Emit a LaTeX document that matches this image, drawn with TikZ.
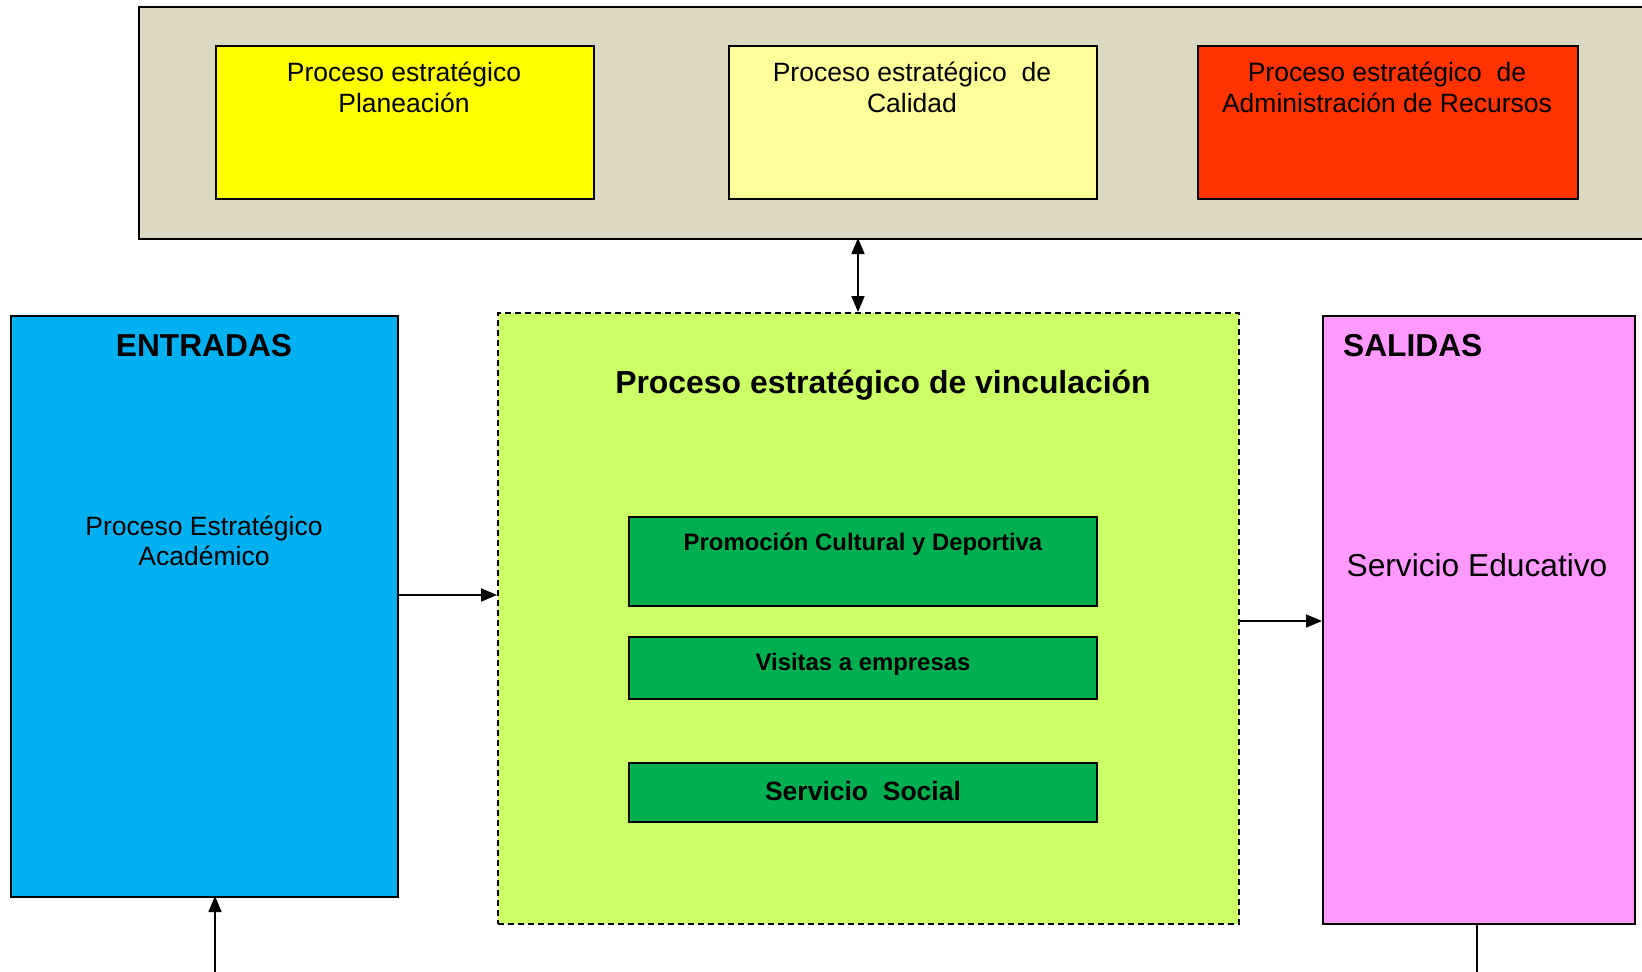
\documentclass[tikz,border=0pt]{standalone}
\usepackage{fontspec}
\setmainfont{Liberation Sans}
\usetikzlibrary{arrows.meta}
\definecolor{cGray}{HTML}{DDD8C2}
\definecolor{cYel}{HTML}{FFFF00}
\definecolor{cLYel}{HTML}{FFFF99}
\definecolor{cRed}{HTML}{FF3300}
\definecolor{cBlue}{HTML}{00B0F0}
\definecolor{cLGreen}{HTML}{CCFF66}
\definecolor{cDGreen}{HTML}{00B050}
\definecolor{cPink}{HTML}{FF99FF}
\tikzset{
  boxnode/.style={draw=black, line width=2pt, inner sep=0pt, anchor=north west},
  dashbox/.style={draw=black, line width=1.6pt, dash pattern=on 6pt off 4pt, inner sep=0pt, anchor=north west},
  toptxt/.style={align=center, inner sep=0pt, anchor=base, font=\fontsize{26.5}{30.5}\selectfont},
  bigbold/.style={inner sep=0pt, anchor=base, font=\fontsize{31.7}{36}\selectfont\bfseries},
  subbold/.style={inner sep=0pt, anchor=base, font=\fontsize{23.9}{28}\selectfont\bfseries},
  tip/.tip={Triangle[length=16pt,width=13pt]},
  conn/.style={line width=1.6pt, -tip},
  plainline/.style={line width=1.6pt}
}
\begin{document}
\begin{tikzpicture}[x=1pt,y=-1pt]
\useasboundingbox (0,0) rectangle (1642,972);
\clip (0,0) rectangle (1642,972);
% top band
\node[boxnode, fill=cGray, minimum width=1530pt, minimum height=232pt] (band) at (138,6) {};
\node[boxnode, fill=cYel, minimum width=378pt, minimum height=153pt] (plan) at (215,45) {};
\node[boxnode, fill=cLYel, minimum width=368pt, minimum height=153pt] (cal) at (728,45) {};
\node[boxnode, fill=cRed, minimum width=380pt, minimum height=153pt] (adm) at (1197,45) {};
\node[toptxt] (plantxt) at (404,112) {Proceso estratégico\\Planeación};
\node[toptxt] (caltxt) at (912,112) {Proceso estratégico~~de\\Calidad};
\node[toptxt] (admtxt) at (1387,112) {Proceso estratégico~~de\\Administración de Recursos};
% main row
\node[boxnode, fill=cBlue, minimum width=387pt, minimum height=581pt] (ent) at (10,315) {};
\node[dashbox, fill=cLGreen, minimum width=741pt, minimum height=611pt] (vinc) at (497,312) {};
\node[boxnode, fill=cPink, minimum width=312pt, minimum height=608pt] (sal) at (1322,315) {};
\node[bigbold] (enttxt) at (204,356) {ENTRADAS};
\node[toptxt, font=\fontsize{26.5}{30}\selectfont] (acadtxt) at (204,565) {Proceso Estratégico\\Académico};
\node[bigbold, font=\fontsize{31.9}{36}\selectfont\bfseries] (vinctxt) at (883,393) {Proceso estratégico de vinculación};
\node[bigbold, anchor=base west] (saltxt) at (1343,356) {SALIDAS};
\node[inner sep=0pt, anchor=base, font=\fontsize{31.7}{36}\selectfont] (eductxt) at (1477,576) {Servicio Educativo};
% inner green boxes
\node[boxnode, fill=cDGreen, minimum width=468pt, minimum height=89pt] (promo) at (628,516) {};
\node[boxnode, fill=cDGreen, minimum width=468pt, minimum height=62pt] (visit) at (628,636) {};
\node[boxnode, fill=cDGreen, minimum width=468pt, minimum height=59pt] (social) at (628,762) {};
\node[subbold] (promotxt) at (863,550) {Promoción Cultural y Deportiva};
\node[subbold] (visittxt) at (863,670) {Visitas a empresas};
\node[subbold, font=\fontsize{26.5}{30}\selectfont\bfseries] (socialtxt) at (863,800) {Servicio~~Social};
% connectors
\coordinate (bandA) at (858,238);
\coordinate (vincA) at (858,312);
\draw[line width=1.6pt, tip-tip] (bandA) -- (vincA);
\coordinate (entE) at (397,595);
\coordinate (vincW) at (497,595);
\draw[conn] (entE) -- (vincW);
\coordinate (vincE) at (1238,621);
\coordinate (salW) at (1322,621);
\draw[conn] (vincE) -- (salW);
\coordinate (inBottom) at (215,975);
\coordinate (entS) at (215,896);
\draw[conn] (inBottom) -- (entS);
\coordinate (salS) at (1477,923);
\coordinate (outBottom) at (1477,975);
\draw[plainline] (salS) -- (outBottom);
\end{tikzpicture}
\end{document}
